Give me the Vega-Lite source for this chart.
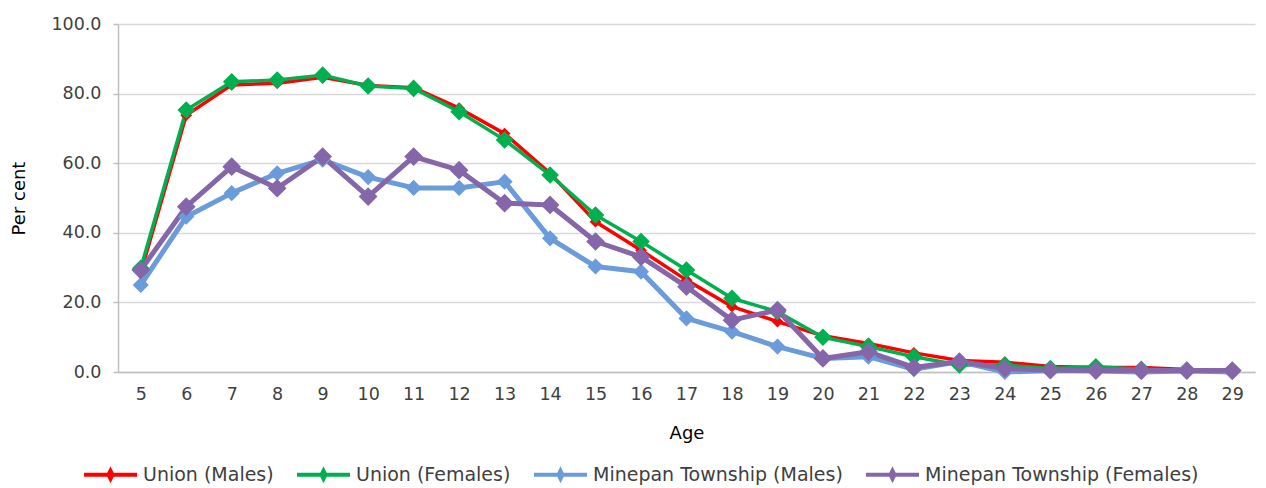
{
  "$schema": "https://vega.github.io/schema/vega-lite/v6.json",
  "autosize": {"type": "none"},
  "width": 1137,
  "height": 348,
  "padding": {"left": 118, "top": 24, "right": 11, "bottom": 116},
  "background": "white",
  "config": {
    "view": {"stroke": null},
    "font": "DejaVu Sans",
    "axis": {"labelFont": "DejaVu Sans", "titleFont": "DejaVu Sans", "labelFontSize": 17.5, "titleFontSize": 18, "titleFontWeight": "normal", "labelColor": "#404040", "titleColor": "#000000", "domainColor": "#bfbfbf", "domainWidth": 1.5, "tickColor": "#bfbfbf", "tickWidth": 1.5, "gridColor": "#d9d9d9", "gridWidth": 1.5}
  },
  "data": {
    "values": [
      {"age": 5, "s": "Union (Males)", "v": 28.5}, {"age": 6, "s": "Union (Males)", "v": 73.8}, {"age": 7, "s": "Union (Males)", "v": 82.5}, {"age": 8, "s": "Union (Males)", "v": 83.0}, {"age": 9, "s": "Union (Males)", "v": 84.7}, {"age": 10, "s": "Union (Males)", "v": 82.3}, {"age": 11, "s": "Union (Males)", "v": 81.7}, {"age": 12, "s": "Union (Males)", "v": 75.8}, {"age": 13, "s": "Union (Males)", "v": 68.5}, {"age": 14, "s": "Union (Males)", "v": 57.1}, {"age": 15, "s": "Union (Males)", "v": 43.2}, {"age": 16, "s": "Union (Males)", "v": 35.0}, {"age": 17, "s": "Union (Males)", "v": 26.4}, {"age": 18, "s": "Union (Males)", "v": 18.8}, {"age": 19, "s": "Union (Males)", "v": 14.5}, {"age": 20, "s": "Union (Males)", "v": 10.4}, {"age": 21, "s": "Union (Males)", "v": 8.2}, {"age": 22, "s": "Union (Males)", "v": 5.5}, {"age": 23, "s": "Union (Males)", "v": 3.3}, {"age": 24, "s": "Union (Males)", "v": 2.8}, {"age": 25, "s": "Union (Males)", "v": 1.6}, {"age": 26, "s": "Union (Males)", "v": 1.3}, {"age": 27, "s": "Union (Males)", "v": 1.3}, {"age": 28, "s": "Union (Males)", "v": 0.7}, {"age": 29, "s": "Union (Males)", "v": 0.4},
      {"age": 5, "s": "Union (Females)", "v": 29.8}, {"age": 6, "s": "Union (Females)", "v": 75.3}, {"age": 7, "s": "Union (Females)", "v": 83.4}, {"age": 8, "s": "Union (Females)", "v": 83.9}, {"age": 9, "s": "Union (Females)", "v": 85.3}, {"age": 10, "s": "Union (Females)", "v": 82.2}, {"age": 11, "s": "Union (Females)", "v": 81.5}, {"age": 12, "s": "Union (Females)", "v": 74.8}, {"age": 13, "s": "Union (Females)", "v": 66.7}, {"age": 14, "s": "Union (Females)", "v": 56.6}, {"age": 15, "s": "Union (Females)", "v": 45.1}, {"age": 16, "s": "Union (Females)", "v": 37.5}, {"age": 17, "s": "Union (Females)", "v": 29.3}, {"age": 18, "s": "Union (Females)", "v": 21.2}, {"age": 19, "s": "Union (Females)", "v": 17.3}, {"age": 20, "s": "Union (Females)", "v": 10.0}, {"age": 21, "s": "Union (Females)", "v": 7.3}, {"age": 22, "s": "Union (Females)", "v": 4.4}, {"age": 23, "s": "Union (Females)", "v": 2.0}, {"age": 24, "s": "Union (Females)", "v": 2.0}, {"age": 25, "s": "Union (Females)", "v": 1.0}, {"age": 26, "s": "Union (Females)", "v": 1.5}, {"age": 27, "s": "Union (Females)", "v": 0.8}, {"age": 28, "s": "Union (Females)", "v": 0.5}, {"age": 29, "s": "Union (Females)", "v": 0.4},
      {"age": 5, "s": "Minepan Township (Males)", "v": 25.0}, {"age": 6, "s": "Minepan Township (Males)", "v": 44.6}, {"age": 7, "s": "Minepan Township (Males)", "v": 51.4}, {"age": 8, "s": "Minepan Township (Males)", "v": 57.1}, {"age": 9, "s": "Minepan Township (Males)", "v": 61.0}, {"age": 10, "s": "Minepan Township (Males)", "v": 56.0}, {"age": 11, "s": "Minepan Township (Males)", "v": 52.9}, {"age": 12, "s": "Minepan Township (Males)", "v": 52.9}, {"age": 13, "s": "Minepan Township (Males)", "v": 54.7}, {"age": 14, "s": "Minepan Township (Males)", "v": 38.4}, {"age": 15, "s": "Minepan Township (Males)", "v": 30.3}, {"age": 16, "s": "Minepan Township (Males)", "v": 28.8}, {"age": 17, "s": "Minepan Township (Males)", "v": 15.4}, {"age": 18, "s": "Minepan Township (Males)", "v": 11.6}, {"age": 19, "s": "Minepan Township (Males)", "v": 7.3}, {"age": 20, "s": "Minepan Township (Males)", "v": 3.9}, {"age": 21, "s": "Minepan Township (Males)", "v": 4.4}, {"age": 22, "s": "Minepan Township (Males)", "v": 0.8}, {"age": 23, "s": "Minepan Township (Males)", "v": 3.0}, {"age": 24, "s": "Minepan Township (Males)", "v": 0.0}, {"age": 25, "s": "Minepan Township (Males)", "v": 0.4}, {"age": 26, "s": "Minepan Township (Males)", "v": 0.3}, {"age": 27, "s": "Minepan Township (Males)", "v": 0.0}, {"age": 28, "s": "Minepan Township (Males)", "v": 0.3}, {"age": 29, "s": "Minepan Township (Males)", "v": 0.0},
      {"age": 5, "s": "Minepan Township (Females)", "v": 29.3}, {"age": 6, "s": "Minepan Township (Females)", "v": 47.5}, {"age": 7, "s": "Minepan Township (Females)", "v": 59.0}, {"age": 8, "s": "Minepan Township (Females)", "v": 52.8}, {"age": 9, "s": "Minepan Township (Females)", "v": 61.9}, {"age": 10, "s": "Minepan Township (Females)", "v": 50.4}, {"age": 11, "s": "Minepan Township (Females)", "v": 61.9}, {"age": 12, "s": "Minepan Township (Females)", "v": 58.0}, {"age": 13, "s": "Minepan Township (Females)", "v": 48.5}, {"age": 14, "s": "Minepan Township (Females)", "v": 48.0}, {"age": 15, "s": "Minepan Township (Females)", "v": 37.5}, {"age": 16, "s": "Minepan Township (Females)", "v": 33.1}, {"age": 17, "s": "Minepan Township (Females)", "v": 24.5}, {"age": 18, "s": "Minepan Township (Females)", "v": 14.9}, {"age": 19, "s": "Minepan Township (Females)", "v": 17.8}, {"age": 20, "s": "Minepan Township (Females)", "v": 3.9}, {"age": 21, "s": "Minepan Township (Females)", "v": 5.8}, {"age": 22, "s": "Minepan Township (Females)", "v": 1.3}, {"age": 23, "s": "Minepan Township (Females)", "v": 3.0}, {"age": 24, "s": "Minepan Township (Females)", "v": 1.0}, {"age": 25, "s": "Minepan Township (Females)", "v": 0.5}, {"age": 26, "s": "Minepan Township (Females)", "v": 0.4}, {"age": 27, "s": "Minepan Township (Females)", "v": 0.4}, {"age": 28, "s": "Minepan Township (Females)", "v": 0.4}, {"age": 29, "s": "Minepan Township (Females)", "v": 0.4}
    ]
  },
  "encoding": {
    "x": {"field": "age", "type": "ordinal", "sort": "ascending", "scale": {"type": "point", "padding": 0.5}, "axis": {"title": "Age", "labelAngle": 0, "ticks": false, "labelPadding": 13, "titlePadding": 22, "grid": false}},
    "y": {"field": "v", "type": "quantitative", "scale": {"domain": [0, 100], "nice": false}, "axis": {"title": "Per cent", "values": [0, 20, 40, 60, 80, 100], "format": ".1f", "tickSize": 5, "labelPadding": 12, "titlePadding": 22, "grid": true}},
    "color": {"field": "s", "type": "nominal", "sort": null, "scale": {"domain": ["Union (Males)", "Union (Females)", "Minepan Township (Males)", "Minepan Township (Females)"], "range": ["#ff0000", "#00b050", "#6a9bdb", "#8566a8"]}, "legend": {"title": null, "orient": "none", "direction": "horizontal", "legendX": -36, "legendY": 422, "symbolType": "M-1,0H1 M0,-0.15L0.075,0L0,0.15L-0.075,0Z", "symbolSize": 2809, "symbolStrokeWidth": 4, "symbolFillColor": "transparent", "labelFontSize": 19, "labelFont": "DejaVu Sans", "labelColor": "#404040", "labelOffset": 4, "columnPadding": 15, "labelLimit": 400}}
  },
  "layer": [
    {
      "mark": {"type": "line", "strokeJoin": "round"},
      "encoding": {
        "strokeWidth": {"condition": [{"test": "datum.s === 'Union (Males)' || datum.s === 'Union (Females)'", "value": 3.5}], "value": 5}
      }
    },
    {
      "mark": {"type": "point", "shape": "diamond", "filled": true, "opacity": 1},
      "encoding": {
        "size": {"condition": [{"test": "datum.s === 'Union (Males)'", "value": 140}, {"test": "datum.s === 'Union (Females)'", "value": 310}, {"test": "datum.s === 'Minepan Township (Males)'", "value": 260}], "value": 350}
      }
    }
  ]
}
